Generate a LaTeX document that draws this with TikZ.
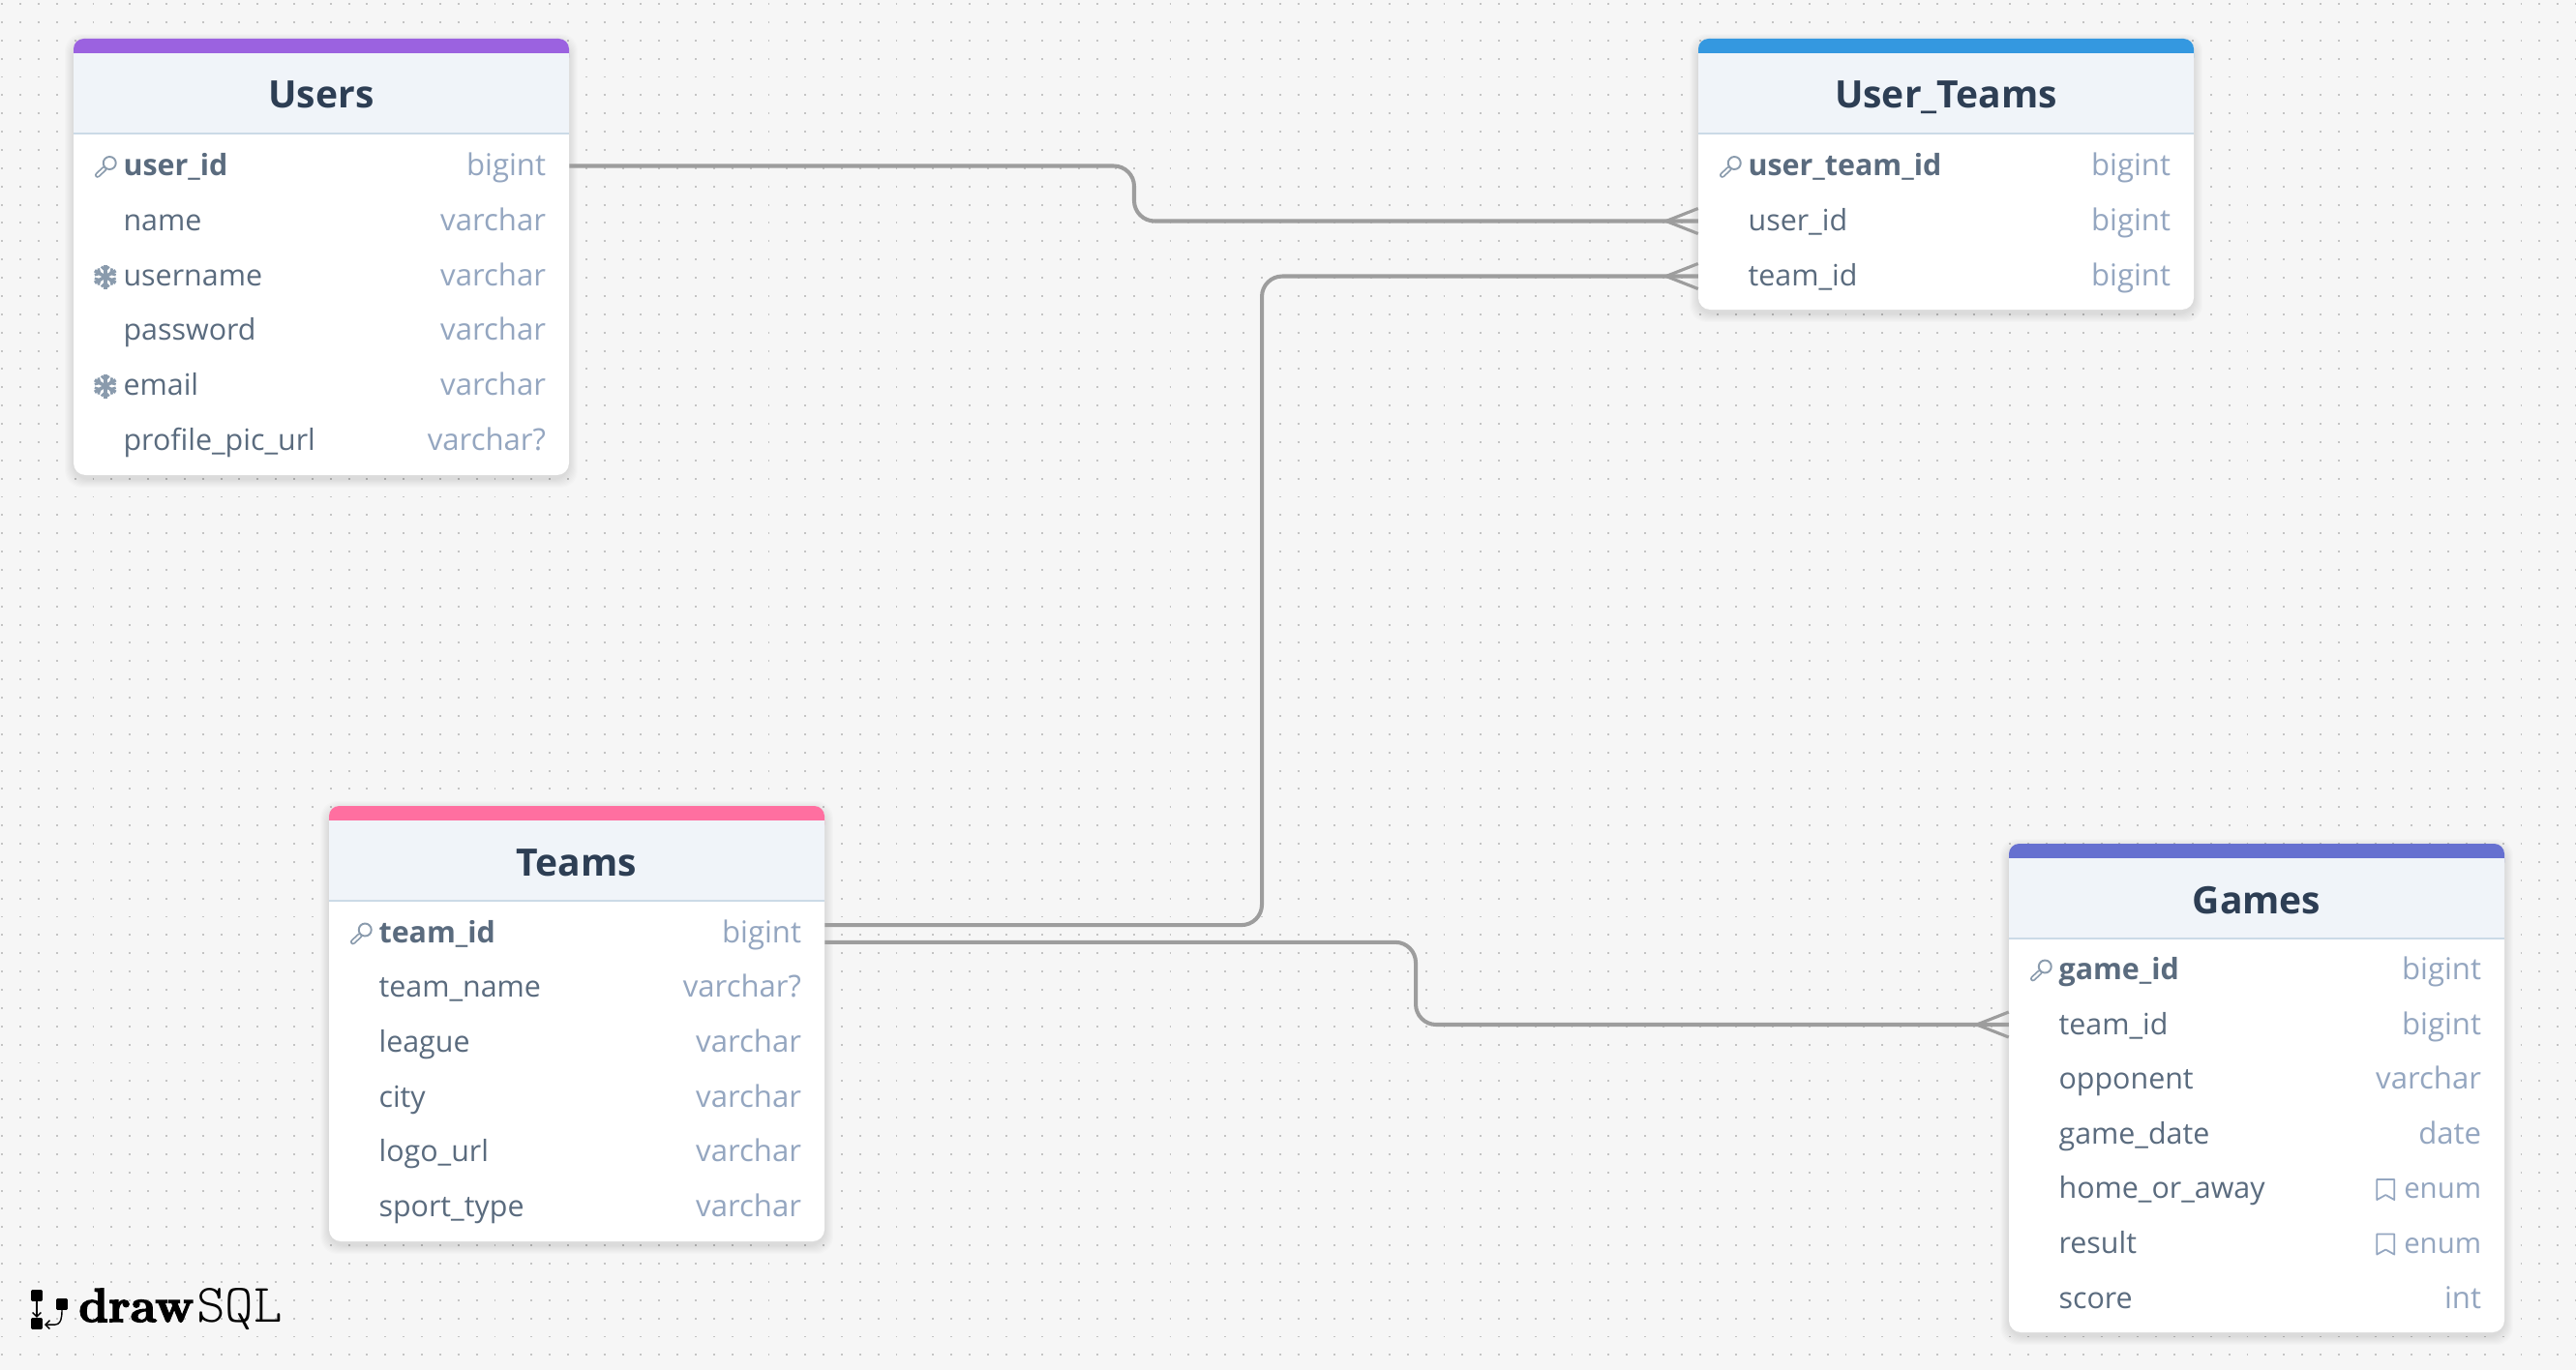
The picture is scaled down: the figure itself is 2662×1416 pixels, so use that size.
\documentclass[tikz,border=0pt]{standalone}
\usepackage{fontspec}
\setmainfont{Open Sans}
\newfontfamily\logoheavy[UprightFont=*/B,FakeBold=3.2]{Latin Modern Roman}
\newfontfamily\lmmonolight{Latin Modern Mono Light}
\usetikzlibrary{calc}
\usetikzlibrary{arrows.meta}

\definecolor{paper}{HTML}{F6F6F6}
\definecolor{griddot}{HTML}{C4C4C4}
\definecolor{headfill}{HTML}{F0F4F9}
\definecolor{headline}{HTML}{CBDAE7}
\definecolor{titlecol}{HTML}{2D3E54}
\definecolor{namecol}{HTML}{5A6B7E}
\definecolor{typecol}{HTML}{94A6C0}
\definecolor{iconcol}{HTML}{8A9BAD}
\definecolor{linkcol}{HTML}{9D9D9D}
\definecolor{barpurple}{HTML}{9B62E0}
\definecolor{barblue}{HTML}{3498E0}
\definecolor{barpink}{HTML}{FF6FA0}
\definecolor{barindigo}{HTML}{6670D0}

\tikzset{
  row/.style={minimum width=291.3pt, minimum height=32.2pt, inner sep=0pt},
  rowname/.style={anchor=base west, xshift=29.3pt, yshift=-5.8pt, inner sep=0pt, text=namecol, font=\fontsize{17.3}{20}\selectfont},
  rowkey/.style={rowname, font=\fontsize{17.3}{20}\selectfont\bfseries},
  rowtype/.style={anchor=base east, xshift=-13.6pt, yshift=-5.8pt, inner sep=0pt, text=typecol, font=\fontsize{17.7}{20}\selectfont},
  rowenum/.style={rowtype, font=\fontsize{16.7}{20}\selectfont},
  cardtitle/.style={anchor=base, inner sep=0pt, text=titlecol, font=\fontsize{22.2}{25}\selectfont\bfseries},
  link/.style={linkcol, line width=2.3pt, rounded corners=12pt},
  crow/.style={linkcol, line width=1.8pt},
  icon/.style={iconcol, line width=1.1pt, line cap=round, line join=round},
  keyicon/.pic={
    \draw [iconcol, line width=3.2pt, line cap=round] (-1,2) -- (-8,8.5);
    \draw [white, line width=1.2pt, line cap=round] (-1,2) -- (-8,8.5);
    \draw [icon, fill=white] (4.5,-4) circle (6.5);
  },
  flakeicon/.pic={
    \foreach \a in {30,90,150,210,270,330} {
      \draw [iconcol, line width=2pt] (0,0) -- (\a:12.5);
      \draw [iconcol, line width=1.5pt] (\a:6.5) -- ++(\a+45:5.5) (\a:6.5) -- ++(\a-45:5.5);
    }
  },
  markicon/.pic={
    \draw [typecol, line width=1pt, line join=round] (-9,-10.5) -- (9,-10.5) -- (9,10.5) -- (0,5.5) -- (-9,10.5) -- cycle;
  },
  logosq/.style={fill=black, minimum size=6.6pt, inner sep=0pt, rounded corners=0.6pt},
}

\newcommand{\tablecard}[6]{%
  \foreach \s in {1,...,9}
    \fill [black, opacity=0.013, rounded corners=10pt] ($(#2-\s,#3-\s+4)$) rectangle ($(#2+512+\s,#4+\s+4)$);
  \fill [white, rounded corners=7pt] (#2,#3) rectangle ($(#2+512,#4)$);
  \fill [#5, rounded corners=6pt] (#2,#3) rectangle ($(#2+512,#3+30)$);
  \fill [headfill] ($(#2,#3+15)$) rectangle ($(#2+512,#3+98)$);
  \draw [headline, line width=0.9pt] ($(#2,#3+98)$) -- ($(#2+512,#3+98)$);
  \node (#1) [cardtitle] at ($(#2+256,#3+72)$) {#6};
}
\newcommand{\crowfoot}[1]{%
  \draw [crow] ($(#1.west)+(-33,0)$) -- ($(#1.west)+(0,-13)$);
  \draw [crow] ($(#1.west)+(-33,0)$) -- ($(#1.west)+(0,13)$);
}

\begin{document}
\begin{tikzpicture}[x=0.02cm, y=-0.02cm]
\useasboundingbox (0,0) rectangle (2662,1416);
\fill [paper] (0,0) rectangle (2662,1416);

% dots of the canvas
\foreach \j in {0,...,74}
  \draw [griddot, line width=1.1pt, dash pattern=on 1.1pt off 9.637pt] (1.2,4+18.87*\j) -- (2662,4+18.87*\j);

% Users
\tablecard{usersTitle}{76}{40}{491}{barpurple}{Users}
\node (usersId) [row] at (332,171.5) {};
\node [rowkey] at (usersId.west) {user\_id};
\node [rowtype] at (usersId.east) {bigint};
\node (usersName) [row] at (332,228) {};
\node [rowname] at (usersName.west) {name};
\node [rowtype] at (usersName.east) {varchar};
\node (usersLogin) [row] at (332,285) {};
\node [rowname] at (usersLogin.west) {username};
\node [rowtype] at (usersLogin.east) {varchar};
\node (usersPass) [row] at (332,341) {};
\node [rowname] at (usersPass.west) {password};
\node [rowtype] at (usersPass.east) {varchar};
\node (usersMail) [row] at (332,398) {};
\node [rowname] at (usersMail.west) {email};
\node [rowtype] at (usersMail.east) {varchar};
\node (usersPic) [row] at (332,455) {};
\node [rowname] at (usersPic.west) {profile\_pic\_url};
\node [rowtype] at (usersPic.east) {varchar?};
\pic at ($(usersId.west)+(33,1)$) {keyicon};
\pic at ($(usersLogin.west)+(33,1)$) {flakeicon};
\pic at ($(usersMail.west)+(33,1)$) {flakeicon};

% User_Teams
\tablecard{linkTitle}{1755}{40}{320}{barblue}{User\_Teams}
\node (linkId) [row] at (2011,171.5) {};
\node [rowkey] at (linkId.west) {user\_team\_id};
\node [rowtype] at (linkId.east) {bigint};
\node (linkUser) [row] at (2011,228.5) {};
\node [rowname] at (linkUser.west) {user\_id};
\node [rowtype] at (linkUser.east) {bigint};
\node (linkTeam) [row] at (2011,285.5) {};
\node [rowname] at (linkTeam.west) {team\_id};
\node [rowtype] at (linkTeam.east) {bigint};
\pic at ($(linkId.west)+(33,1)$) {keyicon};

% Teams
\tablecard{teamsTitle}{340}{833}{1283}{barpink}{Teams}
\node (teamsId) [row] at (596,964) {};
\node [rowkey] at (teamsId.west) {team\_id};
\node [rowtype] at (teamsId.east) {bigint};
\node (teamsName) [row] at (596,1020) {};
\node [rowname] at (teamsName.west) {team\_name};
\node [rowtype] at (teamsName.east) {varchar?};
\node (teamsLeague) [row] at (596,1077) {};
\node [rowname] at (teamsLeague.west) {league};
\node [rowtype] at (teamsLeague.east) {varchar};
\node (teamsCity) [row] at (596,1134) {};
\node [rowname] at (teamsCity.west) {city};
\node [rowtype] at (teamsCity.east) {varchar};
\node (teamsLogo) [row] at (596,1190) {};
\node [rowname] at (teamsLogo.west) {logo\_url};
\node [rowtype] at (teamsLogo.east) {varchar};
\node (teamsSport) [row] at (596,1247) {};
\node [rowname] at (teamsSport.west) {sport\_type};
\node [rowtype] at (teamsSport.east) {varchar};
\pic at ($(teamsId.west)+(33,1)$) {keyicon};

% Games
\tablecard{gamesTitle}{2076}{872}{1377}{barindigo}{Games}
\node (gamesId) [row] at (2332,1002) {};
\node [rowkey] at (gamesId.west) {game\_id};
\node [rowtype] at (gamesId.east) {bigint};
\node (gamesTeam) [row] at (2332,1059) {};
\node [rowname] at (gamesTeam.west) {team\_id};
\node [rowtype] at (gamesTeam.east) {bigint};
\node (gamesOpp) [row] at (2332,1115) {};
\node [rowname] at (gamesOpp.west) {opponent};
\node [rowtype] at (gamesOpp.east) {varchar};
\node (gamesDate) [row] at (2332,1172) {};
\node [rowname] at (gamesDate.west) {game\_date};
\node [rowtype] at (gamesDate.east) {date};
\node (gamesHome) [row] at (2332,1228.5) {};
\node [rowname] at (gamesHome.west) {home\_or\_away};
\node [rowenum] at (gamesHome.east) {enum};
\node (gamesResult) [row] at (2332,1285) {};
\node [rowname] at (gamesResult.west) {result};
\node [rowenum] at (gamesResult.east) {enum};
\node (gamesScore) [row] at (2332,1342) {};
\node [rowname] at (gamesScore.west) {score};
\node [rowtype] at (gamesScore.east) {int};
\pic at ($(gamesId.west)+(33,1)$) {keyicon};
\pic at ($(gamesHome.east)+(-123,1)$) {markicon};
\pic at ($(gamesResult.east)+(-123,1)$) {markicon};

% connectors
\coordinate (bendUsers) at (1172,228.5);
\coordinate (bendTeams) at (1304,285.5);
\coordinate (bendGames) at (1463,1059);
\draw [link] (usersId.east) -| (bendUsers) -- (linkUser.west);
\draw [link] ([yshift=4.5pt]teamsId.east) -| (bendTeams) -- (linkTeam.west);
\draw [link] ([yshift=-5.6pt]teamsId.east) -| (bendGames) -- (gamesTeam.west);
\crowfoot{linkUser}
\crowfoot{linkTeam}
\crowfoot{gamesTeam}

% logo
\node (logoA) [logosq] at (38,1339) {};
\node (logoB) [logosq] at (38,1368) {};
\node (logoC) [logosq] at (64,1348) {};
\draw [-{Straight Barb[length=2.5pt,width=5pt]}, line width=0.8pt] (logoA) -- (logoB);
\draw [-{Straight Barb[length=2.5pt,width=5pt]}, line width=0.8pt] (logoC.south) .. controls (64,1372) and (58,1369) .. (46,1369);
\node (logoDraw) [anchor=base west, inner sep=0pt, font=\fontsize{28}{30}\selectfont\logoheavy] at (81,1366) {draw};
\node (logoSql) [anchor=base west, inner sep=0pt, font=\fontsize{32}{34}\selectfont\lmmonolight] at (203,1366) {SQL};
\end{tikzpicture}
\end{document}
